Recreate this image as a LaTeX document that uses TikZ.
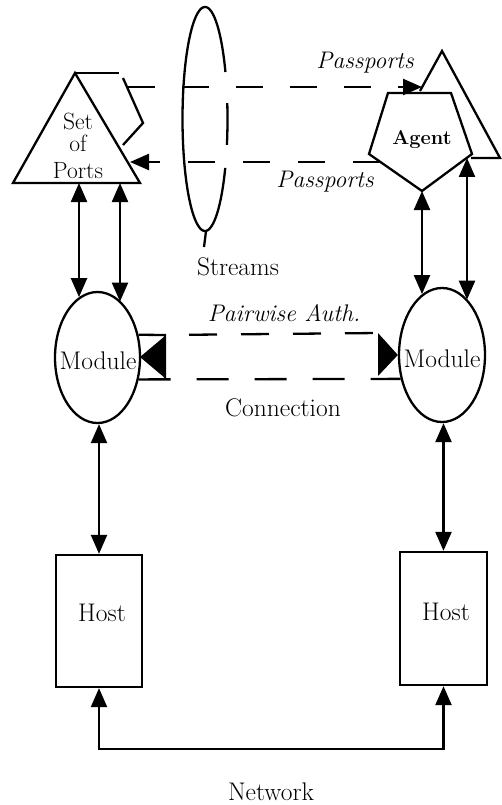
\documentclass[tikz,border=0pt]{standalone}
\usepackage{fontspec}
\usetikzlibrary{arrows.meta,shapes.geometric}
\begin{document}
\begin{tikzpicture}[x=1pt,y=-1pt,line width=2.3pt,line join=miter,
  >={Triangle[length=19pt,width=16pt]},
  lbl/.style={font=\fontsize{25.5}{30}\selectfont,inner sep=0pt},
  plbl/.style={font=\fontsize{23.5}{24}\selectfont,inner sep=0pt},
  ilbl/.style={font=\fontsize{24}{28}\selectfont\itshape,inner sep=0pt},
  modnode/.style={ellipse,draw,inner sep=0pt},
  hostnode/.style={rectangle,draw,inner sep=0pt},
  streamdash/.style={dash pattern=on 27pt off 27pt}]
\useasboundingbox (0,0) rectangle (502,805);

% ---------- Set of Ports ----------
\coordinate (sp1) at (75,73);
\coordinate (sp2) at (140,183);
\coordinate (sp3) at (13,183);
\draw (sp1) -- (sp2) -- (sp3) -- cycle;
\coordinate (bk1) at (119,73);
\coordinate (bk2) at (123,78);
\coordinate (bk3) at (143,123);
\coordinate (bk4) at (123,145);
\draw (sp1) -- (bk1);
\draw (bk2) -- (bk3) -- (bk4);
\node[plbl,align=center,anchor=north] (tports) at (78,112) {Set\\[-2pt]of\\[3pt]Ports};

% ---------- Agent ----------
\coordinate (ag1) at (388,93);
\coordinate (ag2) at (451,93);
\coordinate (ag3) at (472,154);
\coordinate (ag4) at (422,191);
\coordinate (ag5) at (369,154);
\draw (ag1) -- (ag2) -- (ag3) -- (ag4) -- (ag5) -- cycle;
\coordinate (at1) at (420,91);
\coordinate (at2) at (442,51);
\coordinate (at3) at (500,158);
\coordinate (at4) at (471,158);
\draw (at1) -- (at2) -- (at3) -- (at4);
\node[font=\fontsize{20}{24}\selectfont\bfseries,inner sep=0pt] (tagent) at (422,140) {Agent};

% ---------- Streams ----------
\draw plot[domain=90:270,samples=60,smooth] ({205+22.5*cos(\x)},{119-112*sin(\x)});
\draw plot[domain=-90:-25.9,samples=30,smooth] ({205+22.5*cos(\x)},{119-112*sin(\x)});
\draw plot[domain=-13.4:8.2,samples=12,smooth] ({205+22.5*cos(\x)},{119-112*sin(\x)});
\draw plot[domain=24.8:90,samples=30,smooth] ({205+22.5*cos(\x)},{119-112*sin(\x)});
\coordinate (stbot) at (206,231);
\coordinate (stend) at (204,247);
\draw (stbot) -- (stend);
\node[lbl] (tstreams) at (238,267) {Streams};

\coordinate (up1) at (128,87);
\coordinate (up2) at (422,87);
\draw[->,streamdash] (up1) -- (up2);
\coordinate (lo1) at (380,162);
\coordinate (lo2) at (130,162);
\draw[->,dash pattern=on 27pt off 28pt] (lo1) -- (lo2);
\node[ilbl] (tpass1) at (365,63) {Passports};
\node[ilbl] (tpass2) at (325,182) {Passports};

% ---------- Modules ----------
\node[modnode,minimum width=85pt,minimum height=131pt] (lmod) at (97.5,357.5) {};
\node[lbl] (tlmod) at (98,361) {Module};
\node[modnode,minimum width=86pt,minimum height=134pt] (rmod) at (442,355) {};
\node[lbl] (trmod) at (442,359) {Module};

\coordinate (pa) at (79,183);
\coordinate (pb) at (120,183);
\draw[<->] (pa) -- (pa |- lmod.107.4);
\draw[<->] (pb) -- (pb |- lmod.67.9);
\coordinate (aa) at (422,191);
\coordinate (ab) at (467,158);
\draw[<->] (aa) -- (aa |- rmod.108.6);
\draw[<->] (ab) -- (ab |- rmod.65.4);

% ---------- Connection ----------
\coordinate (cl1) at (165,335);
\coordinate (cl2) at (165,379);
\draw (lmod.29) -- (cl1) -- (cl2);
\fill (165,336) -- (165,378) -- (140,357) -- cycle;
\coordinate (cr1) at (378,333);
\coordinate (cr2) at (378,376);
\draw[dash pattern=on 28pt off 24pt,dash phase=28pt] (cl1) -- (cr1);
\fill (cr1) -- (cr2) -- (rmod.180) -- cycle;
\draw[dash pattern=on 32pt off 26pt] (lmod.-28.2) -- (rmod.210.8);
\node[ilbl] (tpair) at (284,313) {Pairwise Auth.};
\node[lbl] (tconn) at (283,408) {Connection};

% ---------- Hosts ----------
\node[hostnode,minimum width=86pt,minimum height=132pt] (lhost) at (99,621) {};
\node[lbl] (tlhost) at (102,613) {Host};
\node[hostnode,minimum width=87pt,minimum height=133pt] (rhost) at (443.5,618.5) {};
\node[lbl] (trhost) at (446,612) {Host};
\draw[<->] (lhost.north |- lmod.south) -- (lhost.north);
\draw[<->] (rhost.north |- rmod.south) -- (rhost.north);

% ---------- Network ----------
\coordinate (net) at (270,749);
\draw[<->,line join=miter] (lhost.south) -- (lhost.south |- net) -- (rhost.south |- net) -- (rhost.south);
\node[lbl] (tnet) at (271,792) {Network};
\end{tikzpicture}
\end{document}
